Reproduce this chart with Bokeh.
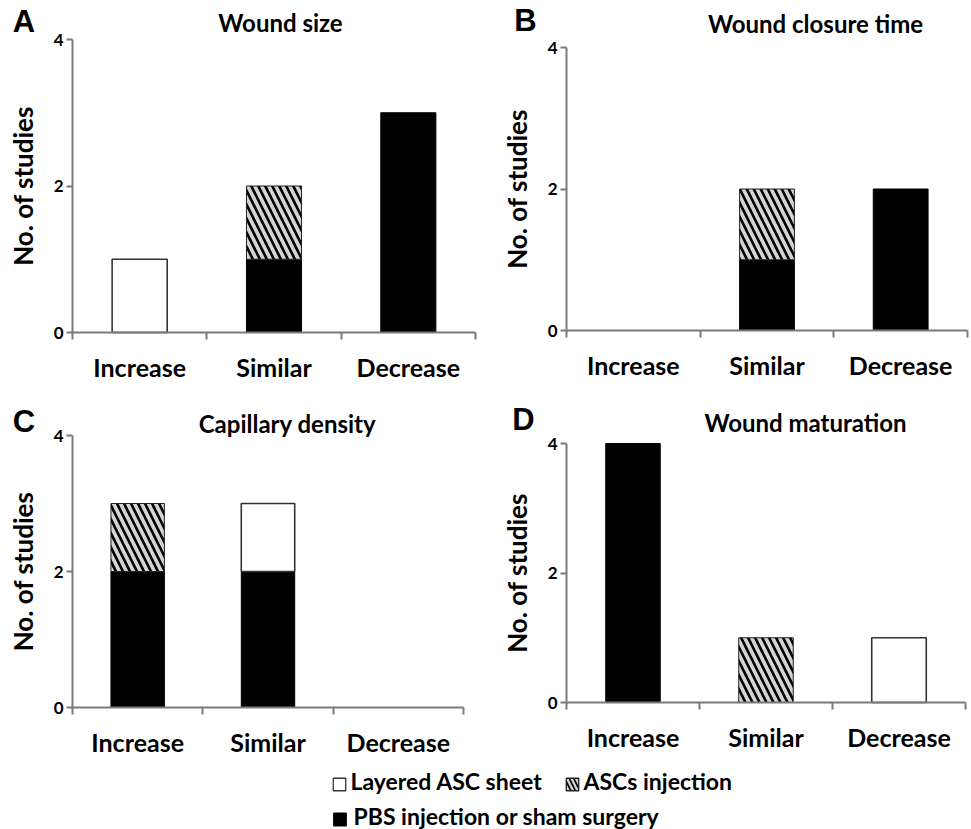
from bokeh.plotting import figure
from bokeh.models import Range1d, FixedTicker, ColumnDataSource, LinearAxis
from bokeh.layouts import column, row
from bokeh.embed import file_html
from bokeh.resources import INLINE
from bokeh.core.properties import value

# ---------------- data ----------------
categories = ["Increase", "Similar", "Decrease"]
series_names = ["PBS injection or sham surgery", "ASCs injection", "Layered ASC sheet"]
panel_letters = ["A", "B", "C", "D"]
panel_titles = ["Wound size", "Wound closure time", "Capillary density", "Wound maturation"]
y_ticks = [0, 2, 4]
y_max = 4
y_axis_title = "No. of studies"

# number of studies per category (Increase, Similar, Decrease)
wound_size_pbs = [0, 1, 3]
wound_size_ascs = [0, 1, 0]
wound_size_sheet = [1, 0, 0]

closure_time_pbs = [0, 1, 2]
closure_time_ascs = [0, 1, 0]
closure_time_sheet = [0, 0, 0]

capillary_pbs = [2, 2, 0]
capillary_ascs = [1, 0, 0]
capillary_sheet = [0, 1, 0]

maturation_pbs = [4, 0, 0]
maturation_ascs = [0, 1, 0]
maturation_sheet = [0, 0, 1]

# ---------------- styles ----------------
FONT = "Lato"
LETTER_FONT = "Liberation Sans"
AXIS = "#7a7a7a"
STYLES = [
    dict(fill_color="black", line_color="black", line_width=1, hatch_pattern=None),
    dict(fill_color="#d4d4d4", line_color="#222222", line_width=1, hatch_pattern="\\",
         hatch_color="black", hatch_scale=14, hatch_weight=2.6),
    dict(fill_color="white", line_color="#333333", line_width=1.6, hatch_pattern=None),
]


def make_panel(letter, title, stacks, fig_rect, axis_px, title_pos, letter_pos):
    """fig_rect / axis_px / *_pos are page-pixel layout positions."""
    X0, Y0, X1, Y1 = fig_rect
    x0px, x3px, y0px, y4px = axis_px
    n = len(categories)
    kx = (x3px - x0px) / n
    ky = (y0px - y4px) / y_max

    def dx(px):
        return (px - x0px) / kx

    def dy(py):
        return (y0px - py) / ky

    p = figure(width=X1 - X0, height=Y1 - Y0,
               x_range=Range1d(dx(X0), dx(X1)), y_range=Range1d(dy(Y1), dy(Y0)),
               output_backend="svg", toolbar_location=None, tools="",
               min_border=0, x_axis_location=None, y_axis_location=None)
    p.grid.visible = False
    p.outline_line_color = None
    p.background_fill_color = "white"

    bottoms = [0] * n
    for vals, st in zip(stacks, STYLES):
        xs, bs, ts = [], [], []
        for i, v in enumerate(vals):
            if v > 0:
                xs.append(i + 0.5)
                bs.append(bottoms[i])
                ts.append(bottoms[i] + v)
            bottoms[i] += v
        src = ColumnDataSource(dict(x=xs, bottom=bs, top=ts))
        p.vbar(x="x", bottom="bottom", top="top", width=0.41, source=src, **st)

    xa = LinearAxis(fixed_location=0, bounds=(0, n))
    ya = LinearAxis(fixed_location=0, bounds=(0, y_max))
    p.add_layout(xa, "below")
    p.add_layout(ya, "left")
    xa.ticker = FixedTicker(ticks=[i + 0.5 for i in range(n)], minor_ticks=list(range(n + 1)))
    xa.major_label_overrides = {i + 0.5: c for i, c in enumerate(categories)}
    ya.ticker = FixedTicker(ticks=y_ticks, minor_ticks=[])
    for ax in (xa, ya):
        ax.axis_line_color = AXIS
        ax.axis_line_width = 2
        ax.major_tick_line_color = AXIS
        ax.major_tick_line_width = 2
        ax.minor_tick_line_color = AXIS
        ax.minor_tick_line_width = 2
        ax.major_label_text_font = FONT
        ax.major_label_text_font_style = "bold"
        ax.major_label_text_color = "black"
    xa.major_tick_out = 0
    xa.major_tick_in = 0
    xa.minor_tick_out = 7
    xa.minor_tick_in = 0
    xa.major_label_standoff = 12
    xa.major_label_text_font_size = "25px"
    ya.major_tick_out = 6
    ya.major_tick_in = 0
    ya.minor_tick_out = 0
    ya.minor_tick_in = 0
    ya.major_label_standoff = 3
    ya.major_label_text_font_size = "17px"
    ya.axis_label = y_axis_title
    ya.axis_label_text_font = FONT
    ya.axis_label_text_font_style = "bold"
    ya.axis_label_text_font_size = "26px"
    ya.axis_label_text_color = "black"
    ya.axis_label_standoff = 12

    tx, ty = title_pos
    p.text(x=[dx(tx)], y=[dy(ty)], text=[title], text_font=value(FONT),
           text_font_style="bold", text_font_size="24px", text_color="black",
           text_align="center", text_baseline="alphabetic")
    lx, ly = letter_pos
    p.text(x=[dx(lx)], y=[dy(ly)], text=[letter], text_font=value(LETTER_FONT),
           text_font_style="bold", text_font_size="31px", text_color="black",
           text_align="center", text_baseline="alphabetic")
    return p


pA = make_panel(panel_letters[0], panel_titles[0],
                [wound_size_pbs, wound_size_ascs, wound_size_sheet],
                fig_rect=(0, 0, 480, 390), axis_px=(72, 475, 332, 39),
                title_pos=(280, 22), letter_pos=(23.5, 21))
pB = make_panel(panel_letters[1], panel_titles[1],
                [closure_time_pbs, closure_time_ascs, closure_time_sheet],
                fig_rect=(480, 0, 970, 390), axis_px=(566, 967, 330, 47),
                title_pos=(815, 23), letter_pos=(525, 20))
pC = make_panel(panel_letters[2], panel_titles[2],
                [capillary_pbs, capillary_ascs, capillary_sheet],
                fig_rect=(0, 390, 480, 762), axis_px=(72, 463, 707, 435),
                title_pos=(287, 423), letter_pos=(23.5, 420.5))
pD = make_panel(panel_letters[3], panel_titles[3],
                [maturation_pbs, maturation_ascs, maturation_sheet],
                fig_rect=(480, 390, 970, 762), axis_px=(566, 965, 702, 443),
                title_pos=(805, 422), letter_pos=(523, 419))

# ---------------- legend ----------------
LX0, LY0, LX1, LY1 = 0, 762, 970, 829
leg = figure(width=LX1 - LX0, height=LY1 - LY0,
             x_range=Range1d(LX0, LX1), y_range=Range1d(-LY1, -LY0),
             output_backend="svg", toolbar_location=None, tools="", min_border=0,
             x_axis_location=None, y_axis_location=None)
leg.grid.visible = False
leg.outline_line_color = None

# legend item placement in page pixels (y negated): order sheet, ascs, pbs
legend_order = [2, 1, 0]
box_pos = [(339, 784), (572, 784), (339.5, 819)]
text_pos = [(350, 780.5), (583, 780.5), (353, 815.5)]
for k, (bx, by), (txx, tyy) in zip(legend_order, box_pos, text_pos):
    st = dict(STYLES[k])
    if st.get("hatch_pattern"):
        st["hatch_scale"] = 9
        st["hatch_weight"] = 1.7
    st["line_width"] = 1.3
    leg.rect(x=[bx], y=[-by], width=12.5, height=12.5, **st)
    leg.text(x=[txx], y=[-tyy], text=[series_names[k]], text_font=value(FONT),
             text_font_style="bold", text_font_size="23px", text_color="black",
             text_align="left", text_baseline="alphabetic")

layout = column(row(pA, pB), row(pC, pD), leg)
open("out.html", "w").write(file_html(layout, INLINE))
